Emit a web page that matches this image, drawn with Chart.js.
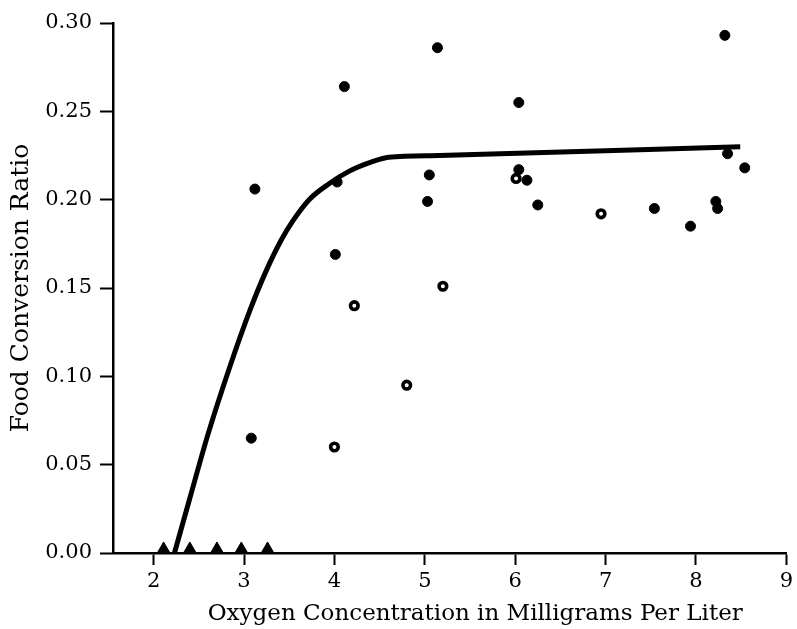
<!DOCTYPE html>
<html>
<head>
<meta charset="utf-8">
<script src="https://cdn.jsdelivr.net/npm/chart.js@4"></script>
<style>
  html, body { margin: 0; padding: 0; background: #fff; }
  #wrap { width: 797px; height: 629px; }
</style>
</head>
<body>
<div id="wrap"><canvas id="myChart" width="797" height="629"></canvas></div>
<script>
// filled dots
var filledX = [3.12, 3.08, 4.03, 4.11, 4.01, 5.05, 5.03, 5.14, 6.04, 6.04, 6.13, 6.25, 7.54, 7.94, 8.22, 8.24, 8.35, 8.54, 8.32];
var filledY = [0.206, 0.065, 0.210, 0.264, 0.169, 0.214, 0.199, 0.286, 0.255, 0.217, 0.211, 0.197, 0.195, 0.185, 0.199, 0.195, 0.226, 0.218, 0.293];
// open dots
var openX = [4.22, 5.20, 4.80, 4.00, 6.01, 6.95];
var openY = [0.140, 0.151, 0.095, 0.060, 0.212, 0.192];
// triangles sitting on the x axis
var triX = [2.11, 2.40, 2.70, 2.97, 3.26];
var triY = [0.002, 0.002, 0.002, 0.002, 0.002];
// fitted curve
var curveX = [2.23, 2.40, 2.60, 2.84, 3.07, 3.23, 3.41, 3.54, 3.72, 3.94, 4.16, 4.42, 4.60, 5.16, 8.49];
var curveY = [0.000, 0.031, 0.067, 0.105, 0.138, 0.158, 0.177, 0.188, 0.200, 0.209, 0.216, 0.2215, 0.224, 0.225, 0.230];
var xTicks = [2, 3, 4, 5, 6, 7, 8, 9];

function pts(xs, ys){
    var out = [];
    for(var i=0; i < xs.length; i++){
        out.push({x: xs[i], y: ys[i]});
    }
    return out;
}

var serif = "'DejaVu Serif', serif";

new Chart(document.getElementById("myChart"), {
    type: 'scatter',
    data: {
        datasets: [{
            label: 'curve',
            data: pts(curveX, curveY),
            showLine: true,
            borderColor: '#000',
            borderWidth: 5,
            pointRadius: 0,
            cubicInterpolationMode: 'monotone',
            borderCapStyle: 'butt',
            fill: false
        }, {
            label: 'filled',
            data: pts(filledX, filledY),
            pointStyle: 'circle',
            pointRadius: 5,
            backgroundColor: '#000',
            borderColor: '#000',
            borderWidth: 1
        }, {
            label: 'open',
            data: pts(openX, openY),
            pointStyle: 'circle',
            pointRadius: 3.8,
            backgroundColor: '#fff',
            borderColor: '#000',
            borderWidth: 3.6
        }, {
            label: 'triangles',
            data: pts(triX, triY),
            pointStyle: 'triangle',
            pointRadius: 7.5,
            backgroundColor: '#000',
            borderColor: '#000',
            borderWidth: 1
        }]
    },
    options: {
        responsive: false,
        animation: false,
        clip: false,
        layout: { padding: { left: 0, right: 9, top: 23, bottom: 0 } },
        plugins: {
            legend: { display: false },
            tooltip: { enabled: false }
        },
        scales: {
            x: {
                type: 'linear',
                min: 1.55,
                max: 9,
                afterBuildTicks: function(scale){
                    scale.ticks = xTicks.map(function(v){ return {value: v}; });
                },
                afterFit: function(scale){ scale.height = 76; },
                border: { display: true, color: '#000', width: 2.5 },
                grid: { drawOnChartArea: false, drawTicks: true, tickLength: 12, color: '#000', tickWidth: 2 },
                ticks: { color: '#000', padding: 4, maxRotation: 0, font: { family: serif, size: 21 } },
                title: {
                    display: true,
                    // leading spaces push the centred title to the right, as in the original
                    text: '       Oxygen Concentration in Milligrams Per Liter',
                    color: '#000',
                    font: { family: serif, size: 23 },
                    padding: { top: 0, bottom: 1 }
                }
            },
            y: {
                min: 0,
                max: 0.30,
                ticks: {
                    stepSize: 0.05,
                    color: '#000',
                    padding: 8,
                    font: { family: serif, size: 21 },
                    callback: function(v){ return v.toFixed(2); }
                },
                afterFit: function(scale){ scale.width = 113; },
                border: { display: true, color: '#000', width: 2.5 },
                grid: { drawOnChartArea: false, drawTicks: true, tickLength: 13, color: '#000', tickWidth: 2 },
                title: {
                    display: true,
                    text: 'Food Conversion Ratio',
                    color: '#000',
                    font: { family: serif, size: 25 },
                    padding: { top: 6, bottom: 0 }
                }
            }
        }
    }
});
</script>
</body>
</html>
